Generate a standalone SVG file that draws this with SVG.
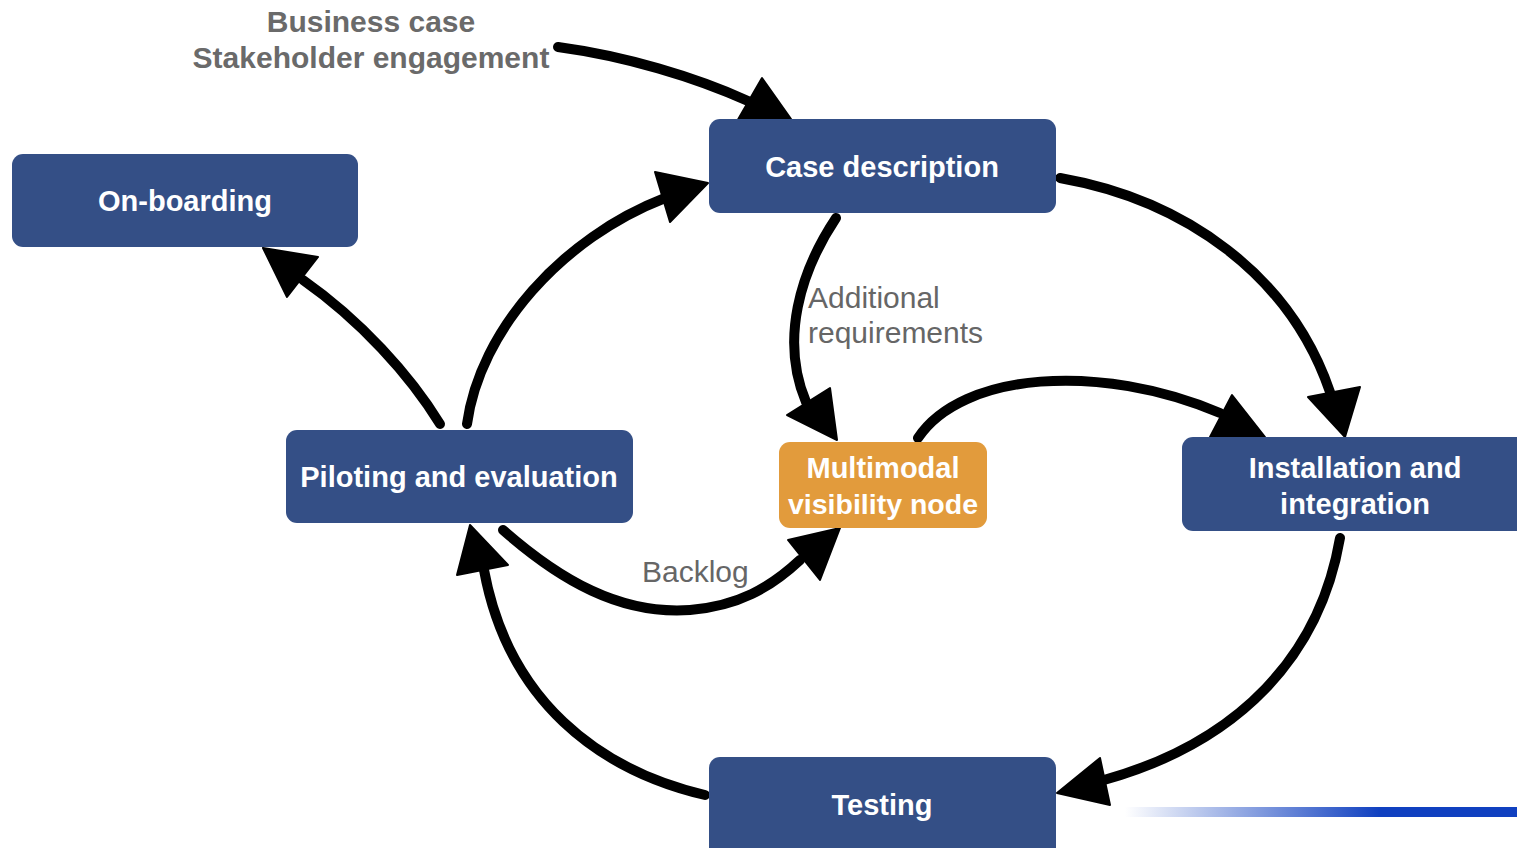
<svg xmlns="http://www.w3.org/2000/svg" width="1517" height="848" viewBox="0 0 1517 848">
  <style>
    .box { fill: #344f86; }
    .box-hl { fill: #e29b3c; }
    .nlabel { font-family: "Liberation Sans", Arial, sans-serif; font-weight: bold; font-size: 29px; fill: #ffffff; text-anchor: middle; }
    .head { font-family: "Liberation Sans", Arial, sans-serif; font-weight: bold; font-size: 30px; fill: #6a6a6a; text-anchor: middle; }
    .note { font-family: "Liberation Sans", Arial, sans-serif; font-size: 30px; fill: #666666; }
    .brush { fill: none; stroke: #000; stroke-width: 10; stroke-linecap: round; stroke-linejoin: round; }
    .tip { fill: #000; stroke: #000; stroke-width: 2; stroke-linejoin: round; }
  </style>
  <defs>
    <linearGradient id="rule" x1="0" y1="0" x2="1" y2="0">
      <stop offset="0" stop-color="#1040c0" stop-opacity="0"/>
      <stop offset="0.65" stop-color="#1040c0" stop-opacity="1"/>
      <stop offset="1" stop-color="#1040c0" stop-opacity="1"/>
    </linearGradient>
  </defs>
  <rect width="1517" height="848" fill="#ffffff"/>

  <!-- footer rule -->
  <rect x="1125" y="807" width="392" height="10" fill="url(#rule)"/>

  <!-- header labels -->
  <g id="inputs">
    <text class="head" x="371" y="32">Business case</text>
    <text class="head" x="371" y="68">Stakeholder engagement</text>
  </g>

  <g id="connectors">
    <!-- inputs -> case description -->
    <path class="brush" d="M558,47 C625,56 695,77 748,101"/>
    <polygon class="tip" points="736,123 791,119 762,78"/>
    <!-- case description -> installation -->
    <path class="brush" d="M1060,178 C1185,200 1290,275 1330,392"/>
    <polygon class="tip" points="1308,397 1360,387 1345,437"/>
    <!-- case description -> multimodal node -->
    <path class="brush" d="M836,218 C800,272 780,340 806,402"/>
    <polygon class="tip" points="787,415 830,388 837,440"/>
    <!-- multimodal node -> installation -->
    <path class="brush" d="M918,438 C962,372 1100,362 1220,413"/>
    <polygon class="tip" points="1232,395 1210,437 1265,437"/>
    <!-- installation -> testing -->
    <path class="brush" d="M1340,538 C1320,655 1240,742 1104,780"/>
    <polygon class="tip" points="1057,793 1100,758 1110,805"/>
    <!-- testing -> piloting -->
    <path class="brush" d="M705,795 C598,770 508,700 484,570"/>
    <polygon class="tip" points="470,525 457,575 508,565"/>
    <!-- piloting -> multimodal node (backlog) -->
    <path class="brush" d="M503,530 C560,580 620,615 690,610 C738,606 770,588 800,560"/>
    <polygon class="tip" points="788,540 840,528 820,580"/>
    <!-- piloting -> on-boarding -->
    <path class="brush" d="M440,424 C410,375 360,320 303,280"/>
    <polygon class="tip" points="263,248 318,257 287,297"/>
    <!-- piloting -> case description -->
    <path class="brush" d="M467,424 C480,330 562,238 665,198"/>
    <polygon class="tip" points="655,172 708,183 670,222"/>
  </g>

  <g id="onboarding">
    <rect class="box" x="12" y="154" width="346" height="93" rx="11"/>
    <text class="nlabel" x="185" y="211">On-boarding</text>
  </g>
  <g id="case-description">
    <rect class="box" x="709" y="119" width="347" height="94" rx="11"/>
    <text class="nlabel" x="882" y="177">Case description</text>
  </g>
  <g id="piloting">
    <rect class="box" x="286" y="430" width="347" height="93" rx="11"/>
    <text class="nlabel" x="459" y="487">Piloting and evaluation</text>
  </g>
  <g id="multimodal-node">
    <rect class="box-hl" x="779" y="442" width="208" height="86" rx="11"/>
    <text class="nlabel" x="883" y="478">Multimodal</text>
    <text class="nlabel" x="883" y="514" style="font-size:28.5px">visibility node</text>
  </g>
  <g id="installation">
    <rect class="box" x="1182" y="437" width="350" height="94" rx="11"/>
    <text class="nlabel" x="1355" y="478">Installation and</text>
    <text class="nlabel" x="1355" y="514">integration</text>
  </g>
  <g id="testing">
    <rect class="box" x="709" y="757" width="347" height="110" rx="11"/>
    <text class="nlabel" x="882" y="815">Testing</text>
  </g>

  <g id="edge-labels">
    <text class="note" x="808" y="308">Additional</text>
    <text class="note" x="808" y="343">requirements</text>
    <text class="note" x="642" y="582">Backlog</text>
  </g>
</svg>
